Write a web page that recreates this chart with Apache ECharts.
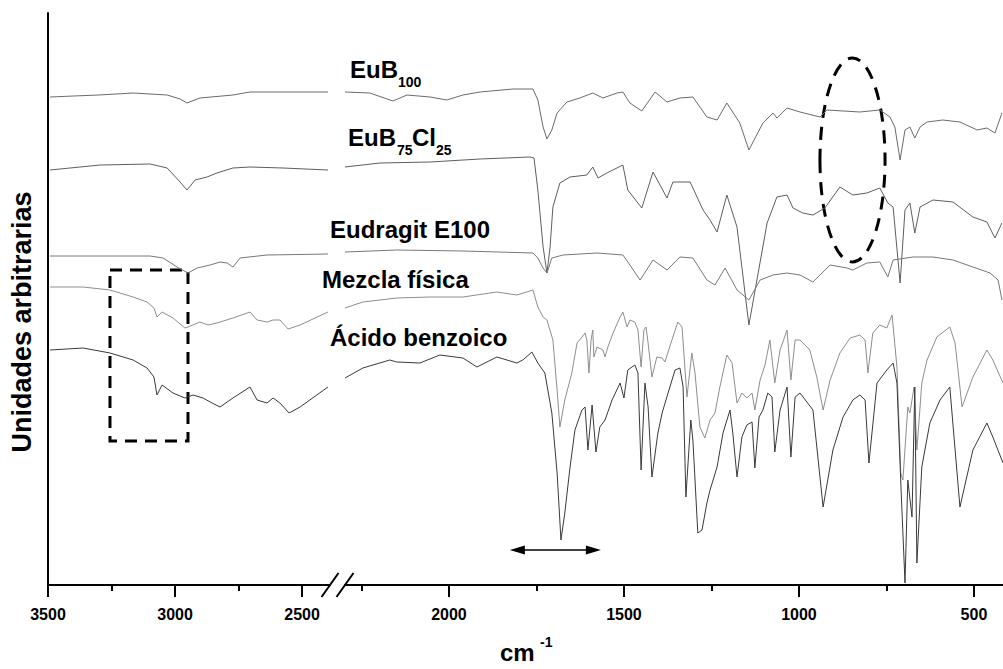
<!DOCTYPE html>
<html><head><meta charset="utf-8">
<script src="https://cdn.jsdelivr.net/npm/echarts@6/dist/echarts.min.js"></script>
<style>html,body{margin:0;padding:0;background:#fff}#c{width:1003px;height:669px}</style>
</head><body><div id="c"></div>
<script>
// ---- axis ticks (cm-1) ----
const majorLeft = [3500, 3000, 2500];
const minorLeft = [3250, 2750];
const majorRight = [2000, 1500, 1000, 500];
const minorRight = [2250, 1750, 1250, 750];

// ---- spectra: [wavenumber cm-1, intensity (arb. units, offset stacked)] ----
const eub100Left = [[3492,488],[3400,489],[3300,490],[3165,492],[3031,490],[2980,486],[2953,482],[2902,487],[2772,490],[2705,493],[2550,493],[2398,493]];
const eub100Right = [[2297,493],[2226,492],[2160,484],[2120,490],[2054,488],[2006,485],[1960,490],[1911,493],[1817,496],[1760,496],[1746,485],[1731,458],[1720,446],[1706,455],[1691,472],[1663,483],[1626,487],[1589,492],[1560,487],[1520,492],[1503,493],[1483,482],[1449,474],[1411,493],[1377,483],[1340,487],[1303,488],[1263,468],[1234,465],[1206,482],[1169,462],[1143,435],[1103,462],[1074,472],[1063,467],[1034,477],[997,473],[940,468],[920,475],[826,473],[769,475],[740,468],[726,458],[711,425],[697,455],[683,458],[669,447],[654,458],[634,463],[589,465],[540,463],[491,455],[463,457],[440,452],[420,472]];

const eub75Left = [[3492,415],[3295,420],[3098,421],[3031,417],[2980,403],[2953,395],[2921,405],[2874,408],[2835,412],[2772,417],[2705,418],[2575,417],[2398,415]];
const eub75Right = [[2297,418],[2197,422],[2054,423],[1911,426],[1769,428],[1757,427],[1746,395],[1731,338],[1720,312],[1711,338],[1703,378],[1683,402],[1654,408],[1606,410],[1589,418],[1574,407],[1549,412],[1503,420],[1489,395],[1449,377],[1417,413],[1377,387],[1360,403],[1311,403],[1274,375],[1254,365],[1234,353],[1206,390],[1177,358],[1143,260],[1091,362],[1063,388],[1034,390],[1017,377],[989,372],[960,370],[926,377],[883,398],[846,390],[806,392],[769,397],[746,382],[731,378],[711,302],[697,375],[683,382],[669,352],[654,378],[617,385],[560,383],[503,368],[463,363],[440,347],[420,362]];

const eudragitLeft = [[3492,329],[3098,329],[3047,327],[2992,318],[2949,312],[2913,317],[2862,320],[2823,323],[2795,322],[2772,318],[2744,327],[2638,330],[2398,331]];
const eudragitRight = [[2297,333],[2149,335],[1960,334],[1760,332],[1746,327],[1731,317],[1720,312],[1706,327],[1674,330],[1577,332],[1503,330],[1483,320],[1454,305],[1417,325],[1377,315],[1340,328],[1303,327],[1263,305],[1240,300],[1211,317],[1177,295],[1143,285],[1111,305],[1074,310],[1034,312],[997,310],[960,303],[911,320],[863,317],[846,315],[806,322],[769,323],[746,308],[731,325],[674,328],[617,328],[560,325],[503,318],[454,312],[431,305],[420,285]];

const mezclaLeft = [[3492,298],[3362,298],[3256,295],[3165,288],[3110,283],[3083,277],[3071,268],[3051,273],[3008,267],[2961,257],[2949,258],[2902,263],[2870,260],[2835,262],[2772,267],[2705,273],[2677,265],[2638,263],[2614,265],[2587,265],[2555,256],[2508,260],[2398,273]];
const mezclaRight = [[2297,277],[2246,283],[2149,287],[2054,288],[1960,288],[1863,293],[1806,290],[1760,295],[1746,278],[1731,268],[1720,265],[1703,245],[1691,195],[1683,158],[1669,185],[1649,212],[1634,242],[1620,248],[1611,252],[1606,245],[1600,212],[1594,245],[1589,255],[1586,228],[1577,238],[1560,235],[1554,228],[1546,238],[1531,252],[1511,268],[1503,273],[1491,258],[1483,265],[1469,263],[1460,255],[1451,218],[1443,255],[1437,258],[1431,242],[1420,208],[1406,228],[1391,227],[1383,223],[1363,245],[1346,263],[1334,258],[1326,218],[1320,188],[1306,232],[1297,212],[1283,158],[1269,147],[1254,165],[1240,172],[1226,198],[1206,230],[1191,222],[1177,182],[1163,192],[1149,187],[1134,192],[1126,175],[1111,205],[1097,220],[1083,245],[1069,202],[1054,235],[1034,255],[1023,205],[1011,245],[997,245],[969,235],[949,208],[931,175],[911,205],[883,232],[854,247],[826,250],[811,245],[803,212],[789,252],[769,260],[749,257],[734,270],[720,218],[709,112],[703,105],[689,178],[683,172],[671,198],[663,135],[649,202],[634,225],[606,248],[569,258],[554,242],[534,178],[503,208],[463,235],[446,225],[417,202]];

const acidoLeft = [[3492,235],[3362,237],[3256,232],[3165,225],[3110,217],[3083,208],[3071,190],[3051,200],[3008,192],[2961,187],[2929,190],[2890,187],[2854,182],[2823,178],[2772,187],[2705,198],[2677,185],[2638,182],[2614,187],[2587,182],[2551,172],[2508,178],[2398,198]];
const acidoRight = [[2297,207],[2246,217],[2169,225],[2149,223],[2083,222],[2026,230],[1960,227],[1920,218],[1863,228],[1806,222],[1789,225],[1763,233],[1746,222],[1726,212],[1706,172],[1691,112],[1680,45],[1669,72],[1654,118],[1640,155],[1620,175],[1611,178],[1603,135],[1591,180],[1580,133],[1569,158],[1554,165],[1534,185],[1511,202],[1500,187],[1489,215],[1469,220],[1460,212],[1451,115],[1440,202],[1431,178],[1420,108],[1403,152],[1391,172],[1374,192],[1354,215],[1340,217],[1331,198],[1323,88],[1309,165],[1303,145],[1289,52],[1277,55],[1263,82],[1254,95],[1234,118],[1217,152],[1197,175],[1189,152],[1177,108],[1163,148],[1149,160],[1134,163],[1126,117],[1114,168],[1103,175],[1089,192],[1077,188],[1069,133],[1054,175],[1034,198],[1023,128],[1011,188],[997,192],[960,175],[931,78],[903,135],[874,168],[846,185],[826,190],[811,185],[800,122],[777,202],[749,215],[731,222],[720,202],[709,102],[697,2],[689,105],[677,68],[669,198],[663,22],[649,118],[626,162],[597,185],[569,198],[540,78],[503,135],[463,162],[446,148],[417,122]];

const traceNames = ['EuB100', 'EuB75Cl25', 'Eudragit E100', 'Mezcla física', 'Ácido benzoico'];

// ---- annotation anchors in data units ----
const boxSpan = [3256, 2949, 315, 144];      // wn from, wn to, intensity top, intensity bottom
const ovalSpec = [847, 425, 93, 102];        // center wn, center intensity, half width (cm-1), half height
const arrowSpan = [1826, 1566, 35];          // wn from, wn to, intensity

const traces = [
  {name: traceNames[0], color: '#6b6b6b', left: eub100Left, right: eub100Right},
  {name: traceNames[1], color: '#5e5e5e', left: eub75Left, right: eub75Right},
  {name: traceNames[2], color: '#787878', left: eudragitLeft, right: eudragitRight},
  {name: traceNames[3], color: '#8e8e8e', left: mezclaLeft, right: mezclaRight},
  {name: traceNames[4], color: '#3a3a3a', left: acidoLeft, right: acidoRight}
];

const FONT = '"Liberation Sans", Arial, sans-serif';
const chart = echarts.init(document.getElementById('c'), null, {renderer: 'svg'});

const series = [];
traces.forEach(t => {
  series.push({type: 'line', name: t.name, xAxisIndex: 0, yAxisIndex: 0, data: t.left,
    showSymbol: false, symbol: 'none', lineStyle: {color: t.color, width: 1}, silent: true});
  series.push({type: 'line', name: t.name, xAxisIndex: 2, yAxisIndex: 1, data: t.right,
    showSymbol: false, symbol: 'none', lineStyle: {color: t.color, width: 1}, silent: true});
});

const tickLabel = {show: true, color: '#000', fontFamily: FONT, fontWeight: 'bold', fontSize: 16, margin: 21,
  formatter: v => String(v)};
function xMajor(grid, min, max, vals) {
  return {type: 'value', gridIndex: grid, inverse: true, min: min, max: max, position: 'bottom',
    axisLine: {show: true, onZero: false, lineStyle: {color: '#000', width: 2}},
    axisTick: {show: true, customValues: vals, length: 12, lineStyle: {color: '#000', width: 2}},
    axisLabel: Object.assign({customValues: vals}, tickLabel),
    splitLine: {show: false}};
}
function xMinor(grid, min, max, vals) {
  return {type: 'value', gridIndex: grid, inverse: true, min: min, max: max, position: 'bottom', offset: 0,
    axisLine: {show: false, onZero: false},
    axisTick: {show: true, customValues: vals, length: 6, lineStyle: {color: '#000', width: 2}},
    axisLabel: {show: false}, splitLine: {show: false}};
}

chart.setOption({
  animation: false,
  backgroundColor: '#fff',
  grid: [
    {left: 48, top: 13, width: 282, bottom: 84},
    {left: 345, top: 13, right: 0, bottom: 84}
  ],
  xAxis: [
    xMajor(0, 2390, 3500, majorLeft),
    xMinor(0, 2390, 3500, minorLeft),
    xMajor(1, 417, 2297, majorRight),
    xMinor(1, 417, 2297, minorRight)
  ],
  yAxis: [
    {type: 'value', gridIndex: 0, min: 0, max: 572,
      axisLine: {show: true, onZero: false, lineStyle: {color: '#000', width: 2}},
      axisTick: {show: false}, axisLabel: {show: false}, splitLine: {show: false}},
    {type: 'value', gridIndex: 1, min: 0, max: 572, show: false}
  ],
  series: series
});

// ---- annotations ----
const P0 = v => chart.convertToPixel({seriesIndex: 0}, v);
const P1 = v => chart.convertToPixel({seriesIndex: 1}, v);

const b1 = P0([boxSpan[0], boxSpan[2]]);
const b2 = P0([boxSpan[1], boxSpan[3]]);
const oc = P1([ovalSpec[0], ovalSpec[1]]);
const oe = P1([ovalSpec[0] - ovalSpec[2], ovalSpec[1] + ovalSpec[3]]);
const a1 = P1([arrowSpan[0], arrowSpan[2]]);
const a2 = P1([arrowSpan[1], arrowSpan[2]]);
const br1 = P0([2390, 0]);
const br2 = P1([2297, 0]);

const dashStyle = {fill: 'none', stroke: '#000', lineWidth: 3, lineDash: [12, 8]};
const txt = (text, x, y, size) => ({type: 'text', x: x, y: y, silent: true,
  style: {text: text, fill: '#000', font: 'bold ' + size + 'px ' + FONT, textAlign: 'left', verticalAlign: 'bottom'}});

const graphics = [
  {type: 'rect', silent: true, shape: {x: b1[0], y: b1[1], width: b2[0] - b1[0], height: b2[1] - b1[1]}, style: dashStyle},
  {type: 'ellipse', silent: true, shape: {cx: oc[0], cy: oc[1], rx: oe[0] - oc[0], ry: oe[1] - oc[1]}, style: Object.assign({}, dashStyle, {lineDash: [13, 9]})},
  {type: 'line', silent: true, shape: {x1: a1[0] + 12, y1: a1[1], x2: a2[0] - 12, y2: a2[1]}, style: {stroke: '#000', lineWidth: 1.5}},
  {type: 'polygon', silent: true, shape: {points: [[a1[0], a1[1]], [a1[0] + 15, a1[1] - 4.5], [a1[0] + 15, a1[1] + 4.5]]}, style: {fill: '#000'}},
  {type: 'polygon', silent: true, shape: {points: [[a2[0], a2[1]], [a2[0] - 15, a2[1] - 4.5], [a2[0] - 15, a2[1] + 4.5]]}, style: {fill: '#000'}},
  {type: 'line', silent: true, shape: {x1: br1[0] - 8.5, y1: br1[1] + 12, x2: br1[0] + 8.5, y2: br1[1] - 12}, style: {stroke: '#000', lineWidth: 2}},
  {type: 'line', silent: true, shape: {x1: br2[0] - 8.5, y1: br2[1] + 12, x2: br2[0] + 8.5, y2: br2[1] - 12}, style: {stroke: '#000', lineWidth: 2}},
  // y axis title
  {type: 'text', x: 22, y: 322, rotation: Math.PI / 2, silent: true,
    style: {text: 'Unidades arbitrarias', fill: '#000', font: 'bold 27px ' + FONT, textAlign: 'center', verticalAlign: 'middle'}},
  // trace labels
  txt('EuB', 350, 81, 24), txt('100', 398, 89, 14),
  txt('EuB', 348, 149, 24), txt('75', 397, 157, 14), txt('Cl', 412, 149, 24), txt('25', 436, 157, 14),
  txt('Eudragit E100', 330, 241, 24),
  txt('Mezcla física', 322, 291, 24),
  txt('Ácido benzoico', 330, 349, 24),
  // x axis name
  txt('cm', 500, 664, 24), txt('-1', 540, 649, 14)
];
chart.setOption({graphic: graphics});
</script></body></html>
